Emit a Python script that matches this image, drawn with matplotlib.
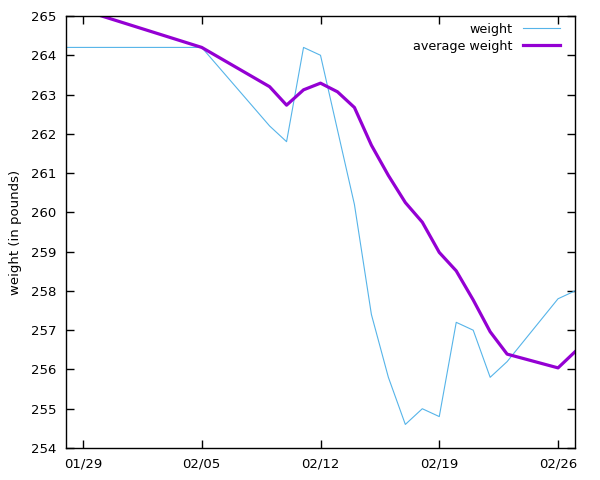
import matplotlib
matplotlib.use('Agg')
import matplotlib.pyplot as plt
import matplotlib.dates as mdates
import pandas as pd

# daily weigh-ins (pounds)
weight_dates = ['2023-01-28', '2023-02-05', '2023-02-09', '2023-02-10', '2023-02-11',
                '2023-02-12', '2023-02-13', '2023-02-14', '2023-02-15', '2023-02-16',
                '2023-02-17', '2023-02-18', '2023-02-19', '2023-02-20', '2023-02-21',
                '2023-02-22', '2023-02-23', '2023-02-26', '2023-02-27']
weight = [264.2, 264.2, 262.2, 261.8, 264.2,
          264.0, 262.1, 260.2, 257.4, 255.8,
          254.6, 255.0, 254.8, 257.2, 257.0,
          255.8, 256.2, 257.8, 258.0]

# running average
avg_dates = ['2023-01-29', '2023-02-05', '2023-02-09', '2023-02-10', '2023-02-11',
             '2023-02-12', '2023-02-13', '2023-02-14', '2023-02-15', '2023-02-16',
             '2023-02-17', '2023-02-18', '2023-02-19', '2023-02-20', '2023-02-21',
             '2023-02-22', '2023-02-23', '2023-02-26', '2023-02-27']
avg_weight = [265.15, 264.2, 263.2, 262.73, 263.12,
              263.29, 263.07, 262.67, 261.71, 260.94,
              260.25, 259.75, 258.98, 258.51, 257.77,
              256.96, 256.39, 256.04, 256.45]

tick_dates = ['2023-01-29', '2023-02-05', '2023-02-12', '2023-02-19', '2023-02-26']

wd = pd.to_datetime(weight_dates)
ad = pd.to_datetime(avg_dates)

fig = plt.figure(figsize=(6, 4.8), dpi=100)
ax = fig.add_axes([66/600, 32/480, 509/600, 432/480])

ax.plot(wd, weight, color='#56b4e9', lw=0.8, label='weight')
ax.plot(ad, avg_weight, color='#9400d3', lw=2.3, label='average weight')

ax.set_xlim(pd.Timestamp('2023-01-28'), pd.Timestamp('2023-02-27'))
ax.set_ylim(254, 265)
ax.set_yticks(range(254, 266))
ax.set_xticks(pd.to_datetime(tick_dates))
ax.xaxis.set_major_formatter(mdates.DateFormatter('%m/%d'))

ax.tick_params(direction='in', top=True, right=True, length=6, width=1,
               labelsize=9.5, colors='black', pad=7)
for s in ax.spines.values():
    s.set_linewidth(1)

ax.set_ylabel('weight (in pounds)', fontsize=9.5, labelpad=6)

ax.legend(loc='upper right', frameon=False, markerfirst=False, fontsize=9.2,
          handlelength=2.9, labelspacing=0.3, borderaxespad=0.3,
          bbox_to_anchor=(0.988, 1.005))

fig.savefig('out.png', dpi=100)
